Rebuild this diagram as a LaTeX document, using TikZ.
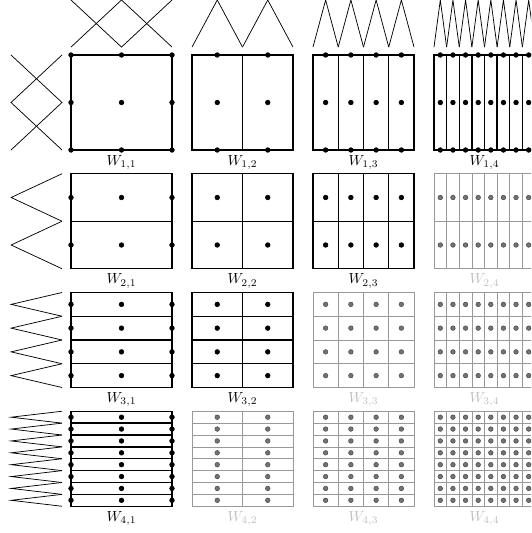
\documentclass[tikz,border=0pt]{standalone}
\tikzset{
  hat/.style={line width=0.5pt},
  cell1/.style={draw=black,line width=0.9pt},
  cell0/.style={draw=gray!80,line width=0.5pt},
  dot1/.style={fill=black},
  dot0/.style={fill=black!55,draw=black!75,line width=0.3pt},
  lab1/.style={text=black},
  lab0/.style={text=gray!50},
}
\begin{document}
\begin{tikzpicture}
\clip (-1.704,1.32) rectangle (11.04,-11.472);
% hats on top
\foreach \j in {1,...,4} {
  \pgfmathsetmacro{\xo}{(\j-1)*2.904}
  \pgfmathtruncatemacro{\n}{2^(\j-1)}
  \pgfmathsetmacro{\dx}{2.424/\n}
  \ifnum\j=1
    \draw[hat] (\xo,0.19) -- (\xo+1.212,1.32) -- (\xo+2.424,0.19);
    \draw[hat] (\xo,1.32) -- (\xo+1.212,0.19) -- (\xo+2.424,1.32);
  \else
    \foreach \k in {1,...,\n}
      \draw[hat] ({\xo+(\k-1)*\dx},0.19) -- ++(\dx/2,1.13) -- ++(\dx/2,-1.13);
  \fi
}
% hats on the left
\foreach \i in {1,...,4} {
  \pgfmathsetmacro{\yo}{-(\i-1)*2.85}
  \pgfmathtruncatemacro{\n}{2^(\i-1)}
  \pgfmathsetmacro{\dy}{2.28/\n}
  \ifnum\i=1
    \draw[hat] (-0.216,\yo) -- (-1.44,\yo-1.14) -- (-0.216,\yo-2.28);
    \draw[hat] (-1.44,\yo) -- (-0.216,\yo-1.14) -- (-1.44,\yo-2.28);
  \else
    \foreach \k in {1,...,\n}
      \draw[hat] (-0.216,{\yo-(\k-1)*\dy}) -- ++(-1.22,-\dy/2) -- ++(1.22,-\dy/2);
  \fi
}
% the spaces W_{i,j}
\foreach \i in {1,...,4} {
  \foreach \j in {1,...,4} {
    \pgfmathsetmacro{\xo}{(\j-1)*2.904}
    \pgfmathsetmacro{\yo}{-(\i-1)*2.85}
    \pgfmathtruncatemacro{\nx}{2^(\j-1)}
    \pgfmathtruncatemacro{\ny}{2^(\i-1)}
    \pgfmathsetmacro{\dx}{2.424/\nx}
    \pgfmathsetmacro{\dy}{2.28/\ny}
    \pgfmathtruncatemacro{\g}{(\i+\j)<6}
    \draw[cell\g] (\xo,\yo) rectangle ++(2.424,-2.28);
    \ifnum\nx>1
      \foreach \k in {2,...,\nx}
        \draw[cell\g] ({\xo+(\k-1)*\dx},\yo) -- ++(0,-2.28);
    \fi
    \ifnum\ny>1
      \foreach \k in {2,...,\ny}
        \draw[cell\g] (\xo,{\yo-(\k-1)*\dy}) -- ++(2.424,0);
    \fi
    \ifnum\j=1 \def\mx{3}\def\sx{1.212}\def\ox{0}
    \else \let\mx\nx \let\sx\dx \pgfmathsetmacro{\ox}{\dx/2}\fi
    \ifnum\i=1 \def\my{3}\def\sy{1.14}\def\oy{0}
    \else \let\my\ny \let\sy\dy \pgfmathsetmacro{\oy}{\dy/2}\fi
    \foreach \a in {1,...,\mx}
      \foreach \b in {1,...,\my}
        \draw[dot\g] ({\xo+\ox+(\a-1)*\sx},{\yo-\oy-(\b-1)*\sy}) circle (0.056);
    \node[lab\g,below] (w\i\j) at (\xo+1.212,\yo-2.28) {$W_{\i,\j}$};
  }
}
\end{tikzpicture}
\end{document}
